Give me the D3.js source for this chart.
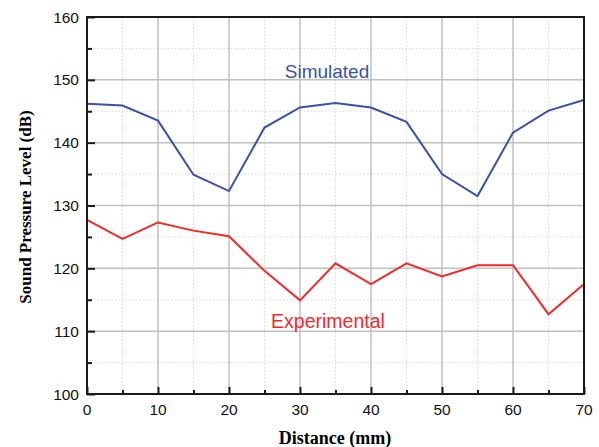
<!DOCTYPE html>
<html>
<head>
<meta charset="utf-8">
<script src="https://cdn.jsdelivr.net/npm/d3@7"></script>
<style>
  body { margin: 0; background: #fff; }
  svg { display: block; }
</style>
</head>
<body>
<div id="chart"></div>
<script>
const distance = [0, 5, 10, 15, 20, 25, 30, 35, 40, 45, 50, 55, 60, 65, 70];
const simulated = [146.2, 145.9, 143.5, 134.9, 132.3, 142.4, 145.6, 146.3, 145.6, 143.3, 135.0, 131.5, 141.6, 145.1, 146.8];
const experimental = [127.7, 124.7, 127.3, 126.0, 125.1, 119.6, 114.9, 120.8, 117.5, 120.8, 118.7, 120.5, 120.5, 112.7, 117.5];
const xTicks = [0, 10, 20, 30, 40, 50, 60, 70];
const yTicks = [100, 110, 120, 130, 140, 150, 160];

const W = 599, H = 447;
const margin = { top: 17, right: 15, bottom: 53, left: 87 }; // plot box 87..584 x 17..394
const width = W - margin.left - margin.right;
const height = H - margin.top - margin.bottom;

const svg = d3.select('#chart').append('svg')
  .attr('width', W)
  .attr('height', H);

const g = svg.append('g')
  .attr('transform', `translate(${margin.left},${margin.top})`);

const x = d3.scaleLinear().domain([0, 70]).range([0, width]);
const y = d3.scaleLinear().domain([100, 160]).range([height, 0]);

// minor grid (dotted)
const minorX = d3.range(5, 70, 10);
const minorY = d3.range(105, 160, 10);
g.append('g').selectAll('line').data(minorX).join('line')
  .attr('x1', d => x(d)).attr('x2', d => x(d))
  .attr('y1', 0).attr('y2', height)
  .attr('stroke', '#d8d8d8').attr('stroke-dasharray', '1.5,2');
g.append('g').selectAll('line').data(minorY).join('line')
  .attr('y1', d => y(d)).attr('y2', d => y(d))
  .attr('x1', 0).attr('x2', width)
  .attr('stroke', '#d8d8d8').attr('stroke-dasharray', '1.5,2');

// major grid
g.append('g').selectAll('line').data(xTicks.slice(1, -1)).join('line')
  .attr('x1', d => x(d)).attr('x2', d => x(d))
  .attr('y1', 0).attr('y2', height)
  .attr('stroke', '#b0b0b0').attr('stroke-width', 1.2);
g.append('g').selectAll('line').data(yTicks.slice(1, -1)).join('line')
  .attr('y1', d => y(d)).attr('y2', d => y(d))
  .attr('x1', 0).attr('x2', width)
  .attr('stroke', '#c0c0c0').attr('stroke-width', 1.5);

// lines
const line = d3.line().x((d, i) => x(distance[i])).y(d => y(d));
g.append('path').datum(simulated)
  .attr('d', line).attr('fill', 'none')
  .attr('stroke', '#3a52a6').attr('stroke-width', 2);
g.append('path').datum(experimental)
  .attr('d', line).attr('fill', 'none')
  .attr('stroke', '#f22a2a').attr('stroke-width', 2);

// frame
g.append('rect')
  .attr('width', width).attr('height', height)
  .attr('fill', 'none').attr('stroke', '#1a1a1a').attr('stroke-width', 2);

// Y axis (ticks pointing inward)
const yAxis = g.append('g')
  .call(d3.axisRight(y).tickValues(yTicks).tickSize(8).tickFormat(''));
yAxis.append('g')
  .call(d3.axisRight(y).tickValues(minorY).tickSize(5).tickFormat(''));
yAxis.selectAll('.domain').remove();
yAxis.selectAll('line').attr('stroke', '#1a1a1a').attr('stroke-width', 2);
g.append('g').selectAll('text').data(yTicks).join('text')
  .attr('x', -8).attr('y', d => y(d)).attr('dy', '0.36em')
  .attr('text-anchor', 'end')
  .attr('font-family', 'Liberation Sans, Arial, sans-serif')
  .attr('font-size', 15.5).attr('fill', '#111')
  .text(d => d);

// X axis
const xAxis = g.append('g')
  .attr('transform', `translate(0,${height})`)
  .call(d3.axisTop(x).tickValues(xTicks).tickSize(7).tickFormat(''));
xAxis.append('g')
  .call(d3.axisTop(x).tickValues(minorX).tickSize(4).tickFormat(''));
xAxis.selectAll('.domain').remove();
xAxis.selectAll('line').attr('stroke', '#1a1a1a').attr('stroke-width', 2);
g.append('g').selectAll('text').data(xTicks).join('text')
  .attr('x', d => x(d)).attr('y', height + 21)
  .attr('text-anchor', 'middle')
  .attr('font-family', 'Liberation Sans, Arial, sans-serif')
  .attr('font-size', 15.5).attr('fill', '#111')
  .text(d => d);

// axis titles
svg.append('text')
  .attr('x', 335).attr('y', 444)
  .attr('text-anchor', 'middle')
  .attr('font-family', 'Liberation Serif, Times New Roman, serif')
  .attr('font-weight', 'bold').attr('font-size', 18)
  .text('Distance (mm)');
svg.append('text')
  .attr('transform', 'translate(31,207) rotate(-90)')
  .attr('text-anchor', 'middle')
  .attr('font-family', 'Liberation Serif, Times New Roman, serif')
  .attr('font-weight', 'bold').attr('font-size', 17)
  .text('Sound Pressure Level (dB)');

// series labels
svg.append('text')
  .attr('x', 327).attr('y', 78)
  .attr('text-anchor', 'middle')
  .attr('font-family', 'Liberation Sans, Arial, sans-serif')
  .attr('font-size', 19).attr('fill', '#3a52a6')
  .text('Simulated');
svg.append('text')
  .attr('x', 328).attr('y', 328)
  .attr('text-anchor', 'middle')
  .attr('font-family', 'Liberation Sans, Arial, sans-serif')
  .attr('font-size', 19.5).attr('fill', '#f22a2a')
  .text('Experimental');
</script>
</body>
</html>
